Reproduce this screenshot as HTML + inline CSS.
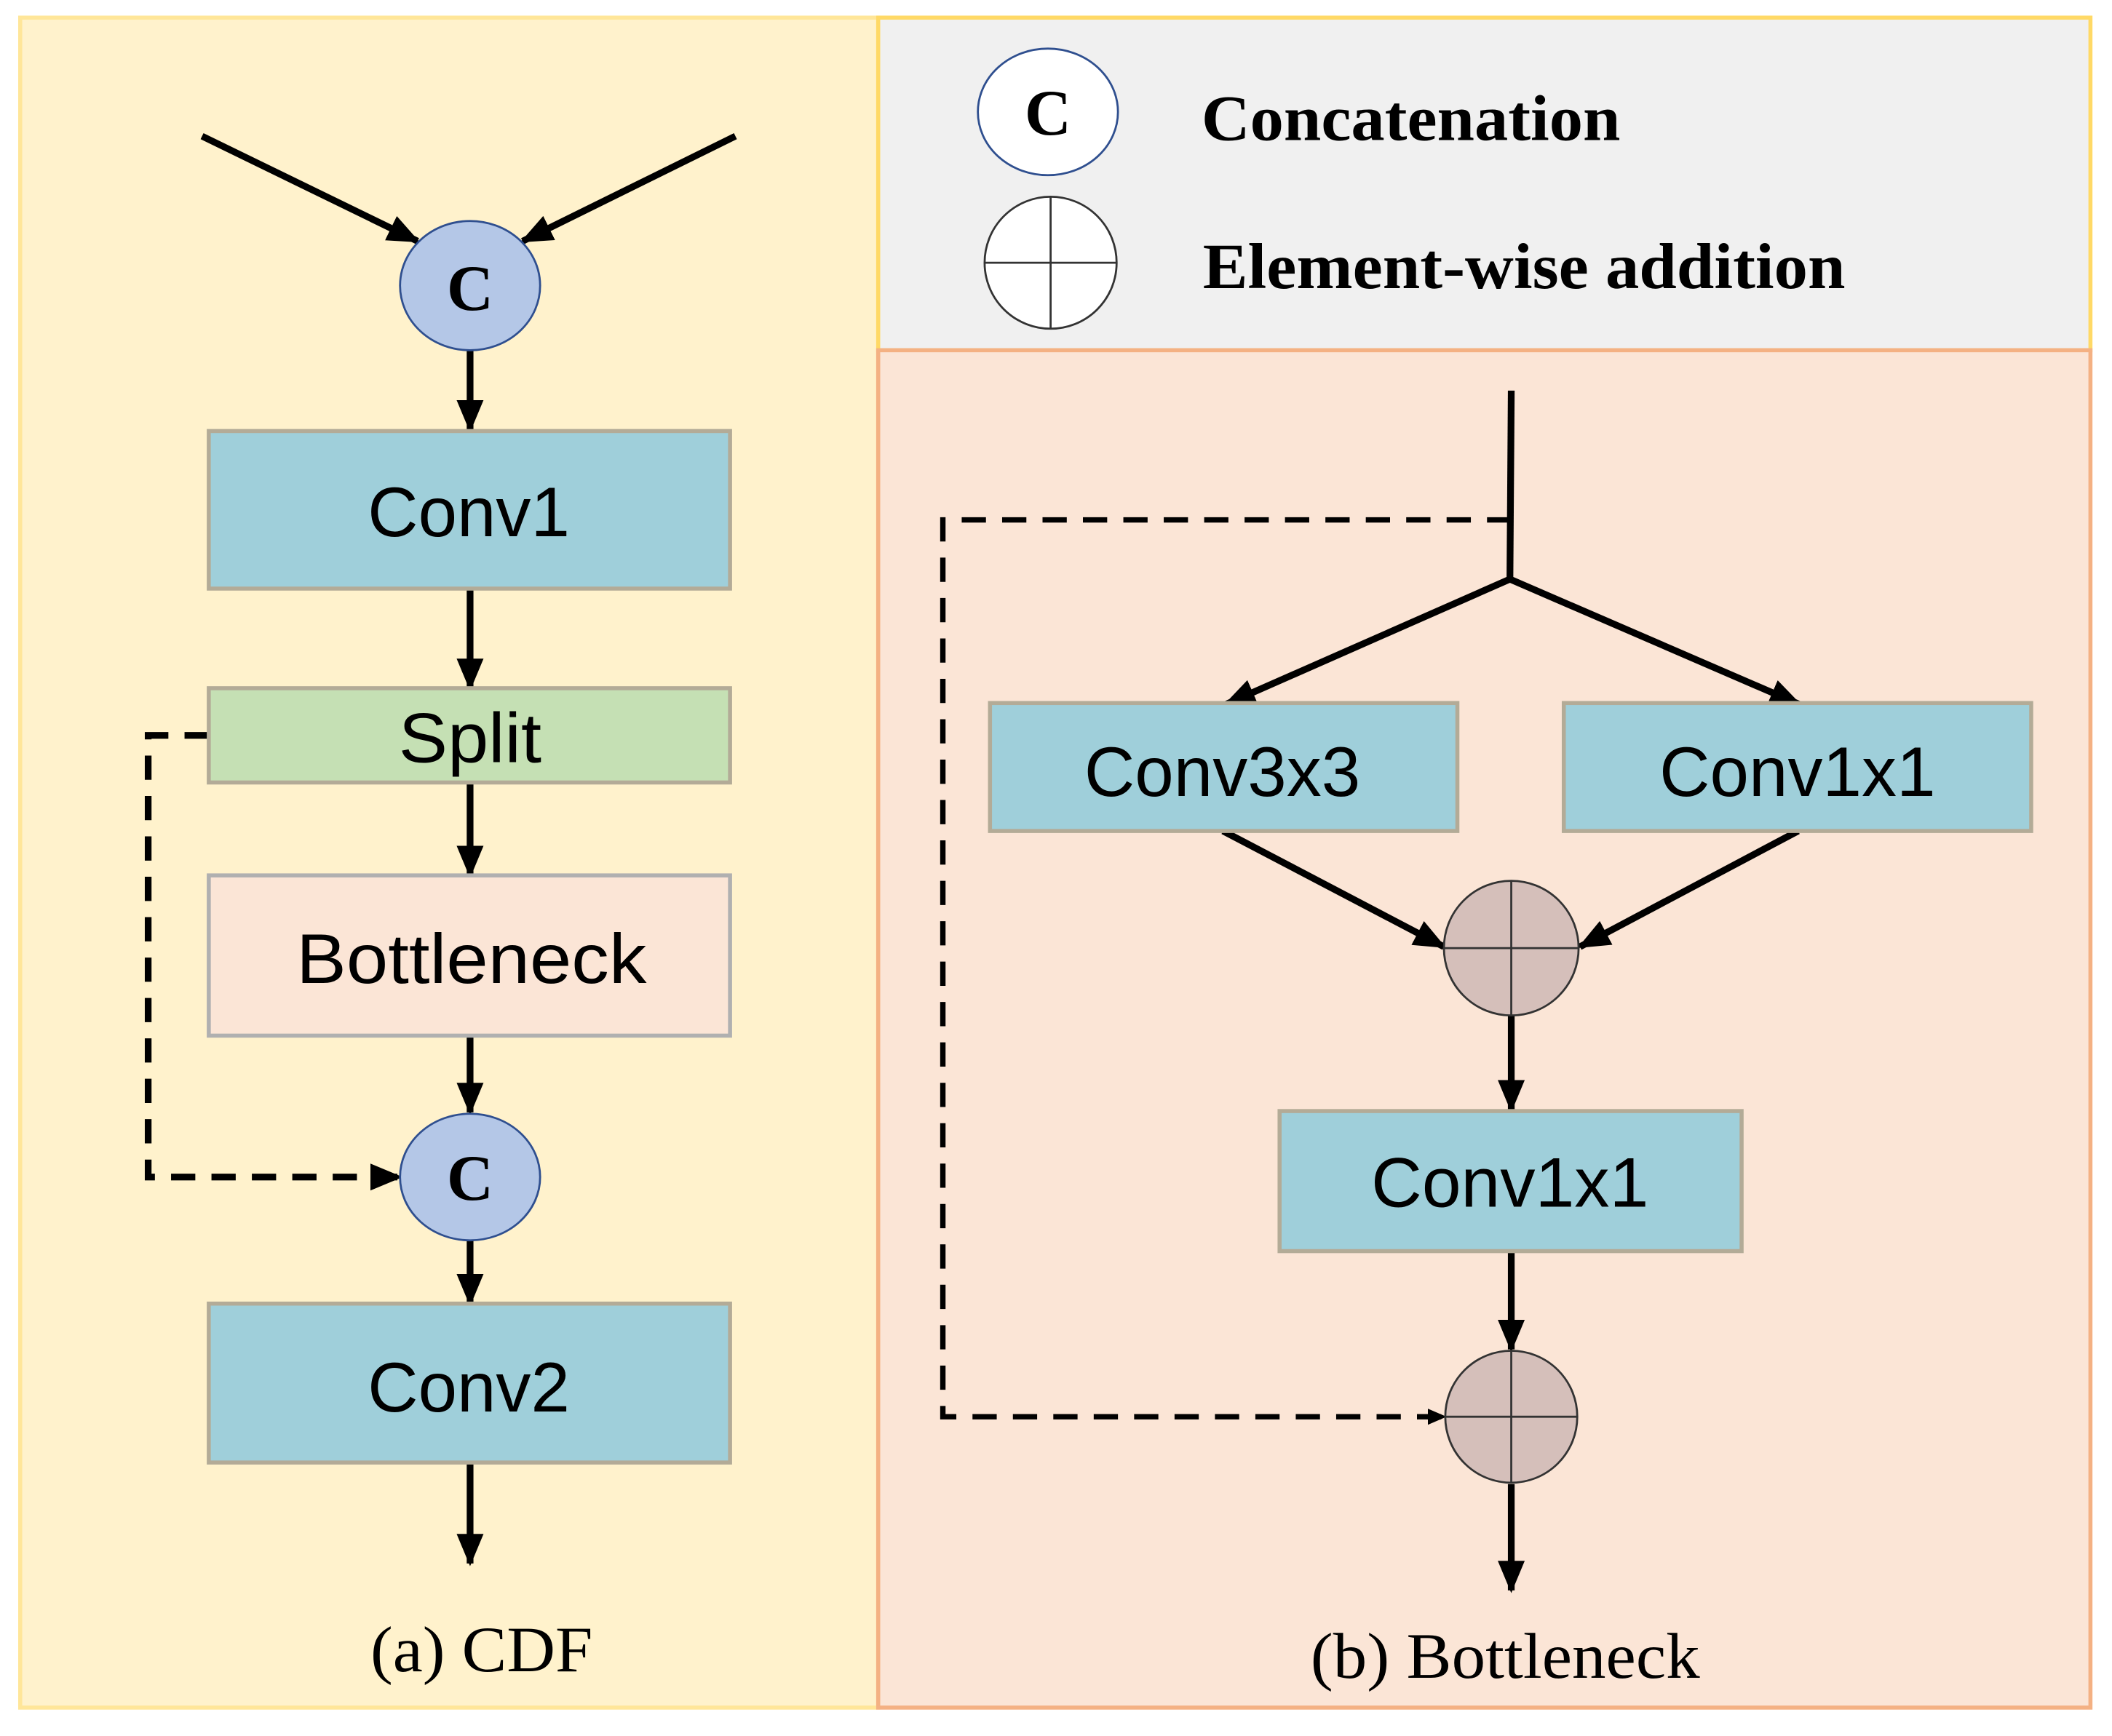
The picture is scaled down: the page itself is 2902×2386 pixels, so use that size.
<!DOCTYPE html>
<html><head><meta charset="utf-8"><style>html,body{margin:0;padding:0;background:#fff}svg{display:block}</style></head>
<body>
<svg width="2902" height="2386" viewBox="0 0 1568 1289" xmlns="http://www.w3.org/2000/svg">
<defs>
<marker id="ah" markerWidth="14" markerHeight="12" refX="13" refY="6" orient="auto" markerUnits="userSpaceOnUse" viewBox="0 0 14 12">
<path d="M0,0 L14,6 L0,12 z" fill="#000"/></marker>
<marker id="ahs" markerWidth="24" markerHeight="20" refX="22" refY="10" orient="auto" markerUnits="userSpaceOnUse" viewBox="0 0 24 20">
<path d="M0,0 L24,10 L0,20 z" fill="#000"/></marker>
</defs>
<rect width="1568" height="1289" fill="#fff"/>
<rect x="15" y="13" width="637" height="1255" fill="#fff2cc" stroke="#ffe699" stroke-width="3"/>
<rect x="652" y="13" width="900" height="247" fill="#f0f0f0" stroke="#ffd966" stroke-width="3"/>
<rect x="652" y="260" width="900" height="1008" fill="#fbe5d6" stroke="#f4b183" stroke-width="3"/>

<g stroke="#000" stroke-width="5" fill="none">
<line x1="150" y1="101" x2="310" y2="179" marker-end="url(#ahs)"/>
<line x1="546" y1="101" x2="388" y2="179" marker-end="url(#ahs)"/>
<line x1="349" y1="260" x2="349" y2="319" marker-end="url(#ahs)"/>
<line x1="349" y1="437" x2="349" y2="511" marker-end="url(#ahs)"/>
<line x1="349" y1="581" x2="349" y2="650" marker-end="url(#ahs)"/>
<line x1="349" y1="769" x2="349" y2="826" marker-end="url(#ahs)"/>
<line x1="349" y1="921" x2="349" y2="968" marker-end="url(#ahs)"/>
<line x1="349" y1="1086" x2="349" y2="1161" marker-end="url(#ahs)"/>
<polyline points="155,546 110,546 110,874 297,874" stroke-dasharray="18,12" marker-end="url(#ahs)"/>

<line x1="1122" y1="290" x2="1121" y2="430"/>
<line x1="1121" y1="430" x2="910" y2="523" marker-end="url(#ahs)"/>
<line x1="1121" y1="430" x2="1336" y2="523" marker-end="url(#ahs)"/>
<line x1="908" y1="617" x2="1072" y2="703" marker-end="url(#ahs)"/>
<line x1="1335" y1="617" x2="1173" y2="703" marker-end="url(#ahs)"/>
<line x1="1122" y1="754" x2="1122" y2="824" marker-end="url(#ahs)"/>
<line x1="1122" y1="929" x2="1122" y2="1002" marker-end="url(#ahs)"/>
<line x1="1122" y1="1102" x2="1122" y2="1181" marker-end="url(#ahs)"/>
</g>
<polyline points="1122,386 700,386 700,1052 1073,1052" fill="none" stroke="#000" stroke-width="4" stroke-dasharray="18,12" marker-end="url(#ah)"/>

<g stroke="#b3ab97" stroke-width="3">
<rect x="155" y="320" width="387" height="117" fill="#9fcfda"/>
<rect x="155" y="511" width="387" height="70" fill="#c5e0b4"/>
<rect x="155" y="650" width="387" height="119" fill="#fbe5d6" stroke="#b0b0b0"/>
<rect x="155" y="968" width="387" height="118" fill="#9fcfda"/>
<rect x="735" y="522" width="347" height="95" fill="#9fcfda"/>
<rect x="1161" y="522" width="347" height="95" fill="#9fcfda"/>
<rect x="950" y="825" width="343" height="104" fill="#9fcfda"/>
</g>

<g font-family="Liberation Sans, sans-serif" font-size="52" fill="#000" lengthAdjust="spacingAndGlyphs">
<text x="273" y="398" textLength="150" lengthAdjust="spacingAndGlyphs">Conv1</text>
<text x="296" y="566" textLength="106" lengthAdjust="spacingAndGlyphs">Split</text>
<text x="220" y="730" textLength="260" lengthAdjust="spacingAndGlyphs">Bottleneck</text>
<text x="273" y="1048" textLength="150" lengthAdjust="spacingAndGlyphs">Conv2</text>
<text x="805" y="591" textLength="205" lengthAdjust="spacingAndGlyphs">Conv3x3</text>
<text x="1232" y="591" textLength="205" lengthAdjust="spacingAndGlyphs">Conv1x1</text>
<text x="1018" y="896" textLength="206" lengthAdjust="spacingAndGlyphs">Conv1x1</text>
</g>

<g stroke="#2f4f8f" stroke-width="1.5" fill="#b4c7e7">
<ellipse cx="349" cy="212" rx="52" ry="48"/>
<ellipse cx="349" cy="874" rx="52" ry="47"/>
<ellipse cx="778" cy="83" rx="52" ry="47" fill="#fff"/>
</g>
<g font-family="Liberation Serif, serif" font-weight="bold" font-size="48" text-anchor="middle" fill="#000">
<text x="349" y="230">C</text>
<text x="349" y="891">C</text>
<text x="778" y="100">C</text>
</g>

<g stroke="#333" stroke-width="1.5">
<ellipse cx="780" cy="195" rx="49" ry="49" fill="#fff"/>
<line x1="731" y1="195" x2="829" y2="195"/><line x1="780" y1="146" x2="780" y2="244"/>
<circle cx="1122" cy="704" r="50" fill="#d5bfba"/>
<line x1="1072" y1="704" x2="1172" y2="704"/><line x1="1122" y1="654" x2="1122" y2="754"/>
<circle cx="1122" cy="1052" r="49" fill="#d5bfba"/>
<line x1="1073" y1="1052" x2="1171" y2="1052"/><line x1="1122" y1="1003" x2="1122" y2="1101"/>
</g>

<g font-family="Liberation Serif, serif" font-weight="bold" font-size="48" fill="#000">
<text x="892" y="104" textLength="311" lengthAdjust="spacingAndGlyphs">Concatenation</text>
<text x="893" y="214" textLength="477" lengthAdjust="spacingAndGlyphs">Element-wise addition</text>
</g>
<g font-family="Liberation Serif, serif" font-size="48" fill="#000">
<text x="275" y="1241" textLength="165" lengthAdjust="spacingAndGlyphs">(a) CDF</text>
<text x="973" y="1246" textLength="289" lengthAdjust="spacingAndGlyphs">(b) Bottleneck</text>
</g>
</svg>
</body></html>
